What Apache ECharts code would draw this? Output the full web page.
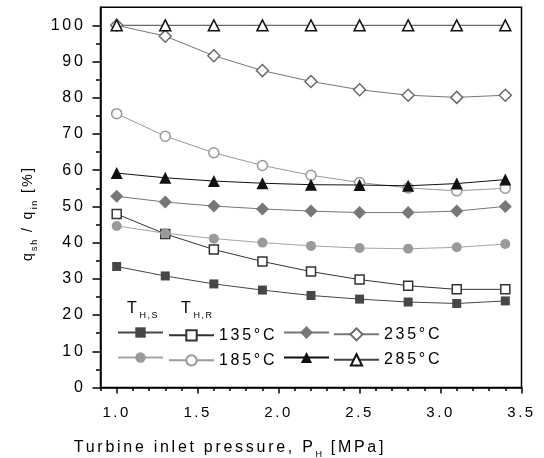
<!DOCTYPE html>
<html>
<head>
<meta charset="utf-8">
<script src="https://cdn.jsdelivr.net/npm/echarts@6/dist/echarts.min.js"></script>
<style>
  html, body { margin: 0; padding: 0; background: #fff; }
  #chart { width: 544px; height: 458px; }
</style>
</head>
<body>
<div id="chart"></div>
<script>
// 压力 (MPa)
const pressure = [1.0, 1.3, 1.6, 1.9, 2.2, 2.5, 2.8, 3.1, 3.4];

// T_H,S 实心符号
const s135 = [33.4, 30.8, 28.6, 26.9, 25.4, 24.4, 23.6, 23.2, 23.9];
const s185 = [44.6, 42.6, 41.1, 40.0, 39.1, 38.5, 38.3, 38.7, 39.6];
const s235 = [52.8, 51.2, 50.1, 49.3, 48.7, 48.3, 48.3, 48.7, 50.0];
const s285 = [59.2, 57.9, 57.0, 56.4, 56.0, 55.9, 55.7, 56.3, 57.4];
// T_H,R 空心符号
const r135 = [47.9, 42.4, 38.1, 34.8, 32.0, 29.8, 28.1, 27.1, 27.1];
const r185 = [75.6, 69.4, 64.8, 61.3, 58.6, 56.6, 55.1, 54.3, 55.0];
const r235 = [100.0, 97.0, 91.6, 87.5, 84.5, 82.2, 80.7, 80.1, 80.7];
const r285 = [100, 100, 100, 100, 100, 100, 100, 100, 100];

const tempLabels = ['135°C', '185°C', '235°C', '285°C'];

// 刻度
const xMajorTicks = [1.0, 1.5, 2.0, 2.5, 3.0, 3.5];
const xMinorTicks = [0.9, 1.1, 1.2, 1.3, 1.4, 1.6, 1.7, 1.8, 1.9, 2.1, 2.2, 2.3, 2.4,
  2.6, 2.7, 2.8, 2.9, 3.1, 3.2, 3.3, 3.4];
const yMajorTicks = [0, 10, 20, 30, 40, 50, 60, 70, 80, 90, 100];
const yMinorTicks = [5, 15, 25, 35, 45, 55, 65, 75, 85, 95];

// 原图字距较宽，echarts 没有 letterSpacing，给 canvas 的 font 顺手补上
const fontDesc = Object.getOwnPropertyDescriptor(CanvasRenderingContext2D.prototype, 'font');
Object.defineProperty(CanvasRenderingContext2D.prototype, 'font', {
  configurable: true,
  get() { return fontDesc.get.call(this); },
  set(v) {
    fontDesc.set.call(this, v);
    const m = /(\d+(?:\.\d+)?)px/.exec(v);
    this.letterSpacing = m ? (parseFloat(m[1]) * 0.17).toFixed(2) + 'px' : '0px';
  },
});

const font = '"Liberation Sans", Arial, sans-serif';

const pairs = (ys) => ys.map((y, i) => [pressure[i], y]);

// 下标 rich 样式：drop 为下标相对正文下沉的像素
function subRich(size, subSize, drop) {
  return {
    m: { fontSize: size, lineHeight: 24, verticalAlign: 'middle', color: '#000', fontFamily: font },
    s: { fontSize: subSize, lineHeight: 24 - 2 * drop, verticalAlign: 'bottom', color: '#000', fontFamily: font },
  };
}

function line(name, data, symbol, size, color, lineColor, filled) {
  return {
    name,
    type: 'line',
    data: pairs(data),
    symbol,
    symbolSize: size,
    showAllSymbol: true,
    lineStyle: { color: lineColor, width: 1 },
    itemStyle: filled
      ? { color, borderColor: color, borderWidth: 0 }
      : { color: '#fff', borderColor: color, borderWidth: 1.5 },
    emphasis: { disabled: true },
    z: filled ? 3 : 2,
  };
}

const series = [
  line('S135', s135, 'rect', 9, '#474747', '#474747', true),
  line('R135', r135, 'rect', 9, '#333', '#333', false),
  line('S185', s185, 'circle', 10, '#9a9a9a', '#a5a5a5', true),
  line('R185', r185, 'circle', 10, '#999', '#9a9a9a', false),
  line('S235', s235, 'diamond', 13, '#777', '#777', true),
  line('R235', r235, 'diamond', 12, '#6a6a6a', '#777', false),
  line('S285', s285, 'triangle', 12, '#111', '#111', true),
  line('R285', r285, 'triangle', 11, '#111', '#444', false),
];

// 每个图例项单独放，S 列不显示文字
function legendItem(name, left, top, label, h = 13) {
  return {
    data: [name],
    left,
    top: top - (h - 13) / 2,
    padding: 0,
    itemWidth: 45,
    itemHeight: h,
    selectedMode: false,
    formatter: () => label,
    textStyle: { fontSize: 16, fontFamily: font, color: '#000' },
  };
}

const legend = [
  legendItem('S135', 117, 326, ''),
  legendItem('R135', 168, 326, tempLabels[0]),
  legendItem('S185', 117, 351, ''),
  legendItem('R185', 168, 351, tempLabels[1]),
  legendItem('S235', 283, 326, '', 16),
  legendItem('R235', 333, 326, tempLabels[2], 15),
  legendItem('S285', 283, 351, '', 14),
  legendItem('R285', 333, 351, tempLabels[3], 14),
];

const axisLine = { show: true, lineStyle: { color: '#000', width: 1.5 } };

const option = {
  animation: false,
  backgroundColor: '#fff',
  grid: {
    left: 100.5,
    right: 22.5,
    top: 7.2,
    bottom: 70.5,
    outerBoundsMode: 'none',
    show: true,
    borderColor: '#000',
    borderWidth: 1.5,
  },
  legend,
  xAxis: [
    {
      type: 'value',
      min: 0.9,
      max: 3.5,
      position: 'bottom',
      axisLine,
      splitLine: { show: false },
      axisTick: { show: true, length: 6, customValues: xMajorTicks, lineStyle: { color: '#000', width: 1.5 } },
      axisLabel: {
        customValues: xMajorTicks,
        formatter: (v) => v.toFixed(1),
        fontSize: 15,
        fontFamily: font,
        color: '#000',
        margin: 17,
      },
      name: '{m|Turbine inlet pressure, P}{s|H}{m| [MPa]}',
      nameLocation: 'middle',
      nameGap: 48,
      nameTextStyle: { rich: subRich(16, 9, 4), padding: [0, 162, 0, 0] },
    },
    {
      type: 'value',
      min: 0.9,
      max: 3.5,
      position: 'bottom',
      axisLine: { show: false },
      splitLine: { show: false },
      axisLabel: { show: false },
      axisTick: { show: true, length: 3.5, customValues: xMinorTicks, lineStyle: { color: '#000', width: 1.5 } },
    },
  ],
  yAxis: [
    {
      type: 'value',
      min: 0,
      max: 105,
      position: 'left',
      axisLine,
      splitLine: { show: false },
      axisTick: { show: true, length: 8, customValues: yMajorTicks, lineStyle: { color: '#000', width: 1.5 } },
      axisLabel: {
        customValues: yMajorTicks,
        fontSize: 16,
        fontFamily: font,
        color: '#000',
        margin: 15,
      },
      name: '{m|q}{s|sh}{m| / q}{s|in}{m| [%]}',
      nameLocation: 'middle',
      nameGap: 60,
      nameRotate: 90,
      nameTextStyle: { rich: subRich(14, 9, 4), padding: [0, 32, 0, 0] },
    },
    {
      type: 'value',
      min: 0,
      max: 105,
      position: 'left',
      axisLine: { show: false },
      splitLine: { show: false },
      axisLabel: { show: false },
      axisTick: { show: true, length: 4.5, customValues: yMinorTicks, lineStyle: { color: '#000', width: 1.5 } },
    },
  ],
  graphic: [
    {
      type: 'text',
      left: 127,
      top: 299,
      style: { text: '{m|T}{s|H,S}', rich: subRich(16, 9, 7) },
    },
    {
      type: 'text',
      left: 181,
      top: 299,
      style: { text: '{m|T}{s|H,R}', rich: subRich(16, 9, 7) },
    },
  ],
  series,
};

const myChart = echarts.init(document.getElementById('chart'));
myChart.setOption(option);
</script>
</body>
</html>
